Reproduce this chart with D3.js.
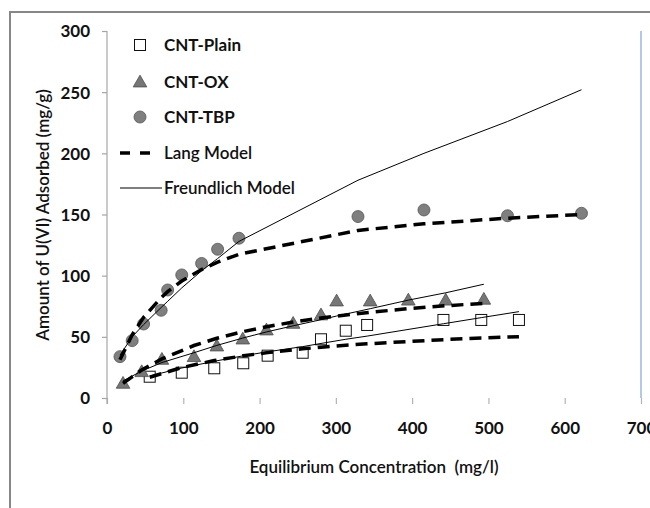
<!DOCTYPE html>
<html>
<head>
<meta charset="utf-8">
<script src="https://cdn.jsdelivr.net/npm/d3@7"></script>
<style>
  html, body { margin: 0; padding: 0; background: #fff; }
  svg { display: block; font-family: Lato, "Open Sans", sans-serif; }
</style>
</head>
<body>
<svg id="chart" width="650" height="508"></svg>
<script>
// Measured adsorption data: equilibrium concentration (mg/l) vs amount adsorbed (mg/g)
const plainC = [56, 98, 140.6, 178.6, 210.6, 256.5, 280.5, 313, 341, 441, 490.6, 540];
const plainQ = [17.4, 20.7, 24.3, 28.4, 34.6, 37, 48, 55, 59.7, 63.8, 63.8, 63.8];
const plainLang = [17, 24.9, 30.6, 34.5, 37.1, 40.2, 41.5, 43.1, 44.3, 47.7, 49, 50.1];
const plainFreund = [18, 24.5, 30, 34.5, 37.8, 42, 44.6, 48, 50.6, 60.7, 65.7, 70.6];

const oxC = [21, 45.5, 72, 114, 144, 178, 209, 244, 280.5, 301, 345, 395, 444, 494];
const oxQ = [12, 21.5, 31.6, 33.8, 42.5, 48.2, 55.6, 61, 67.9, 79.3, 79.3, 80, 80, 80.7];
const oxLang = [12, 22.9, 32, 42.9, 48.8, 54.2, 58.2, 62.1, 65.4, 67, 70.1, 73, 75.4, 77.4];
const oxFreund = [14, 22, 29, 37, 43, 49, 54, 59, 64, 67, 73, 80, 86, 93];

const tbpC = [17, 33, 48, 71, 79.5, 98, 124, 145, 173, 329, 415.5, 525, 622];
const tbpQ = [33.8, 46.9, 60.5, 71.7, 88.3, 100.6, 110, 121.6, 130.6, 148.3, 153.7, 149, 151];
const tbpLang = [31.3, 51.7, 66, 82, 86.9, 95.6, 105, 111, 117.5, 137, 142.4, 147, 150];
const tbpFreund = [35, 50, 60, 74, 79, 90, 104, 114, 128, 178, 200, 226, 252];

const xTicks = [0, 100, 200, 300, 400, 500, 600, 700];
const yTicks = [0, 50, 100, 150, 200, 250, 300];

const legendLabels = ["CNT-Plain", "CNT-OX", "CNT-TBP", "Lang Model", "Freundlich Model"];

const svg = d3.select("#chart");

// Outer chart frame
svg.append("path")
  .attr("d", "M10,520 L10,12 L660,12")
  .attr("fill", "none")
  .attr("stroke", "#878787")
  .attr("stroke-width", 2);

const x = d3.scaleLinear().domain([0, 700]).range([107, 641]);
const y = d3.scaleLinear().domain([0, 300]).range([398, 31]);

// Right edge of the plot area
svg.append("line")
  .attr("x1", x(700)).attr("x2", x(700))
  .attr("y1", y(300)).attr("y2", y(0))
  .attr("stroke", "#7fa6d6").attr("stroke-width", 1.2);

// X axis: tick marks and labels only
const xAxis = svg.append("g")
  .attr("transform", `translate(0,${y(0)})`)
  .call(d3.axisBottom(x).tickValues(xTicks).tickSize(6).tickPadding(18).tickFormat(d3.format("d")));
xAxis.select(".domain").remove();
xAxis.selectAll(".tick line").attr("stroke", "#b3b3b3").attr("stroke-width", 1.2);
xAxis.selectAll(".tick text")
  .attr("font-family", "Lato, sans-serif")
  .attr("font-size", 17).attr("font-weight", 700).attr("fill", "#111");

// Y axis
const yAxis = svg.append("g")
  .attr("transform", `translate(${x(0)},0)`)
  .call(d3.axisLeft(y).tickValues(yTicks).tickSize(5).tickPadding(12).tickFormat(d3.format("d")));
yAxis.select(".domain").attr("stroke", "#a6a6a6").attr("stroke-width", 1.2)
  .attr("d", `M0,${y(300)}V${y(0) + 6}`);
yAxis.selectAll(".tick line").attr("stroke", "#a6a6a6").attr("stroke-width", 1.2);
yAxis.selectAll(".tick text")
  .attr("font-family", "Lato, sans-serif")
  .attr("font-size", 17).attr("font-weight", 700).attr("fill", "#111")
  .attr("dy", "0.35em");

// Axis titles
svg.append("text")
  .attr("x", 374).attr("y", 473)
  .attr("text-anchor", "middle")
  .attr("font-size", 17).attr("font-weight", 600).attr("fill", "#111")
  .attr("xml:space", "preserve")
  .text("Equilibrium Concentration  (mg/l)");

svg.append("text")
  .attr("transform", "translate(49,215) rotate(-90)")
  .attr("text-anchor", "middle")
  .attr("font-size", 17).attr("font-weight", 600).attr("fill", "#111")
  .text("Amount of U(VI) Adsorbed (mg/g)");

const zip = (cs, qs) => cs.map((c, i) => [c, qs[i]]);

// Markers
const sq = 11;
const squareMarker = (g, px, py) => g.append("rect")
  .attr("x", px - sq / 2).attr("y", py - sq / 2)
  .attr("width", sq).attr("height", sq)
  .attr("fill", "#fff").attr("stroke", "#111").attr("stroke-width", 1);
const triPath = d3.symbol().type(d3.symbolTriangle).size(80)();
const triangleMarker = (g, px, py) => g.append("path")
  .attr("d", triPath)
  .attr("transform", `translate(${px},${py + 1})`)
  .attr("fill", "#767676").attr("stroke", "#4d4d4d").attr("stroke-width", 0.8);
const circleMarker = (g, px, py) => g.append("circle")
  .attr("cx", px).attr("cy", py).attr("r", 6)
  .attr("fill", "#7f7f7f").attr("stroke", "#555").attr("stroke-width", 0.8);

const marks = svg.append("g");
zip(plainC, plainQ).forEach(([c, q]) => squareMarker(marks, x(c), y(q)));
zip(oxC, oxQ).forEach(([c, q]) => triangleMarker(marks, x(c), y(q)));
zip(tbpC, tbpQ).forEach(([c, q]) => circleMarker(marks, x(c), y(q)));

// Model curves
const line = d3.line().x(d => x(d[0])).y(d => y(d[1]));
const freund = [[plainC, plainFreund], [oxC, oxFreund], [tbpC, tbpFreund]];
const lang = [[plainC, plainLang], [oxC, oxLang], [tbpC, tbpLang]];

freund.forEach(([cs, qs]) => svg.append("path")
  .attr("d", line(zip(cs, qs)))
  .attr("fill", "none").attr("stroke", "#000").attr("stroke-width", 1));

lang.forEach(([cs, qs]) => svg.append("path")
  .attr("d", line(zip(cs, qs)))
  .attr("fill", "none").attr("stroke", "#000").attr("stroke-width", 3.5)
  .attr("stroke-dasharray", "12,7"));

// Legend
const legend = svg.append("g");
const rowY = [45, 82, 117, 153, 188];
squareMarker(legend, 140, rowY[0]);
triangleMarker(legend, 140, rowY[1]);
circleMarker(legend, 140, rowY[2]);
legend.append("line")
  .attr("x1", 120).attr("x2", 152).attr("y1", rowY[3]).attr("y2", rowY[3])
  .attr("stroke", "#000").attr("stroke-width", 3.5).attr("stroke-dasharray", "10,10");
legend.append("line")
  .attr("x1", 120).attr("x2", 162).attr("y1", rowY[4]).attr("y2", rowY[4])
  .attr("stroke", "#000").attr("stroke-width", 1);
legendLabels.forEach((t, i) => legend.append("text")
  .attr("x", 164).attr("y", rowY[i]).attr("dy", "0.35em")
  .attr("font-size", 17).attr("font-weight", i < 3 ? 700 : 600).attr("fill", "#111")
  .text(t));
</script>
</body>
</html>
